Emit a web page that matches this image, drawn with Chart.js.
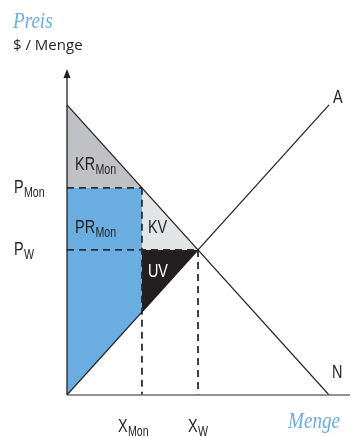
<!DOCTYPE html>
<html>
<head>
<meta charset="utf-8">
<script src="https://cdn.jsdelivr.net/npm/chart.js@4/dist/chart.umd.min.js"></script>
<style>
  html, body { margin: 0; padding: 0; background: #fff; }
  canvas { display: block; }
</style>
</head>
<body>
<canvas id="monopol" width="351" height="437"></canvas>
<script>
// Nachfrage (N) und Angebot (A)
const nachfrageX = [0, 10];
const nachfrageY = [10, 0];
const angebotX = [0, 10];
const angebotY = [0, 10];

// Monopol- und Wettbewerbsgleichgewicht
const xMon = 2.86;
const pMon = 7.14;
const xW = 5;
const pW = 5;

// Achsenbereich
const xMax = 10.8;
const yMax = 11.2;

// Preis auf der Angebotskurve bei xMon
const angebotBeiMon = xMon;

function punkte(xs, ys) {
  return xs.map((x, i) => ({ x: x, y: ys[i] }));
}

// Flächen
const flaecheKR = punkte([0, 0, xMon], [nachfrageY[0], pMon, pMon]);
const flaechePR = punkte([0, xMon, xMon, 0], [pMon, pMon, angebotBeiMon, 0]);
const flaecheKV = punkte([xMon, xMon, xW], [pMon, pW, pW]);
const flaecheUV = punkte([xMon, xW, xMon], [pW, pW, angebotBeiMon]);

function flaeche(data, farbe) {
  return {
    data: data,
    showLine: true,
    fill: 'shape',
    backgroundColor: farbe,
    borderWidth: 0,
    pointRadius: 0,
    order: 5
  };
}

function gestrichelt(data) {
  return {
    data: data,
    showLine: true,
    fill: false,
    borderColor: '#2e2e2e',
    borderWidth: 1.8,
    borderDash: [7, 5],
    pointRadius: 0,
    order: 3
  };
}

function kurve(data) {
  return {
    data: data,
    showLine: true,
    fill: false,
    borderColor: '#231f20',
    borderWidth: 1.2,
    pointRadius: 0,
    order: 1
  };
}

// Achsen mit Pfeil
const achsen = {
  id: 'achsen',
  afterDatasetsDraw(chart) {
    const ctx = chart.ctx;
    const a = chart.chartArea;
    ctx.save();
    ctx.strokeStyle = '#6f6f6f';
    ctx.lineWidth = 1.6;
    ctx.beginPath();
    ctx.moveTo(a.left, a.bottom);
    ctx.lineTo(a.right, a.bottom);
    ctx.stroke();
    ctx.strokeStyle = '#231f20';
    ctx.lineWidth = 1.3;
    ctx.beginPath();
    ctx.moveTo(a.left, a.bottom);
    ctx.lineTo(a.left, a.top + 4);
    ctx.stroke();
    ctx.fillStyle = '#231f20';
    ctx.beginPath();
    ctx.moveTo(a.left, a.top - 1);
    ctx.lineTo(a.left - 3.5, a.top + 8);
    ctx.lineTo(a.left + 3.5, a.top + 8);
    ctx.closePath();
    ctx.fill();
    ctx.restore();
  }
};

// Beschriftungen
function text(ctx, haupt, sub, x, y, farbe) {
  ctx.save();
  ctx.translate(x, y);
  ctx.scale(0.76, 1);
  ctx.fillStyle = farbe || '#231f20';
  ctx.textBaseline = 'alphabetic';
  ctx.textAlign = 'left';
  ctx.font = '19px "Liberation Sans", Arial, sans-serif';
  ctx.fillText(haupt, 0, 0);
  if (sub) {
    const w = ctx.measureText(haupt).width;
    ctx.font = '14px "Liberation Sans", Arial, sans-serif';
    ctx.fillText(sub, w + 0.5, 4);
  }
  ctx.restore();
}

function kursiv(ctx, t, x, y) {
  ctx.save();
  ctx.translate(x, y);
  ctx.scale(0.83, 1);
  ctx.fillStyle = '#6aaee2';
  ctx.font = 'italic 23px "Liberation Serif", "DejaVu Serif", serif';
  ctx.fillText(t, 0, 0);
  ctx.restore();
}

const beschriftung = {
  id: 'beschriftung',
  afterDraw(chart) {
    const ctx = chart.ctx;
    const sx = chart.scales.x;
    const sy = chart.scales.y;
    const a = chart.chartArea;

    kursiv(ctx, 'Preis', 13, 28);
    ctx.save();
    ctx.fillStyle = '#231f20';
    ctx.font = '15px "Open Sans", sans-serif';
    ctx.fillText('$ / Menge', 13, 50);
    ctx.restore();
    kursiv(ctx, 'Menge', 288, 428);

    text(ctx, 'P', 'Mon', 14, sy.getPixelForValue(pMon) + 5);
    text(ctx, 'P', 'W', 14, sy.getPixelForValue(pW) + 5);
    text(ctx, 'X', 'Mon', sx.getPixelForValue(xMon) - 24, 432);
    text(ctx, 'X', 'W', sx.getPixelForValue(xW) - 10, 432);

    text(ctx, 'KR', 'Mon', a.left + 8, 170);
    text(ctx, 'PR', 'Mon', a.left + 8, 233);
    text(ctx, 'KV', null, sx.getPixelForValue(xMon) + 6, 233);
    text(ctx, 'UV', null, sx.getPixelForValue(xMon) + 6, 277, '#ffffff');

    text(ctx, 'A', null, 333, 103);
    text(ctx, 'N', null, 332, 378);
  }
};

const ctx = document.getElementById('monopol').getContext('2d');
const grafik = new Chart(ctx, {
  type: 'scatter',
  data: {
    datasets: [
      flaeche(flaecheKR, '#c0c1c4'),
      flaeche(flaechePR, '#6aade0'),
      flaeche(flaecheKV, '#e3e4e6'),
      flaeche(flaecheUV, '#231f20'),
      gestrichelt(punkte([0, xMon], [pMon, pMon])),
      gestrichelt(punkte([0, xW], [pW, pW])),
      gestrichelt(punkte([xMon, xMon], [pMon, 0])),
      gestrichelt(punkte([xW, xW], [pW, 0])),
      kurve(punkte(nachfrageX, nachfrageY)),
      kurve(punkte(angebotX, angebotY))
    ]
  },
  options: {
    responsive: false,
    animation: false,
    layout: { padding: { left: 67, top: 70, right: 1, bottom: 42 } },
    plugins: {
      legend: { display: false },
      tooltip: { enabled: false }
    },
    scales: {
      x: { type: 'linear', min: 0, max: xMax, display: false },
      y: { type: 'linear', min: 0, max: yMax, display: false }
    }
  },
  plugins: [achsen, beschriftung]
});
</script>
</body>
</html>
